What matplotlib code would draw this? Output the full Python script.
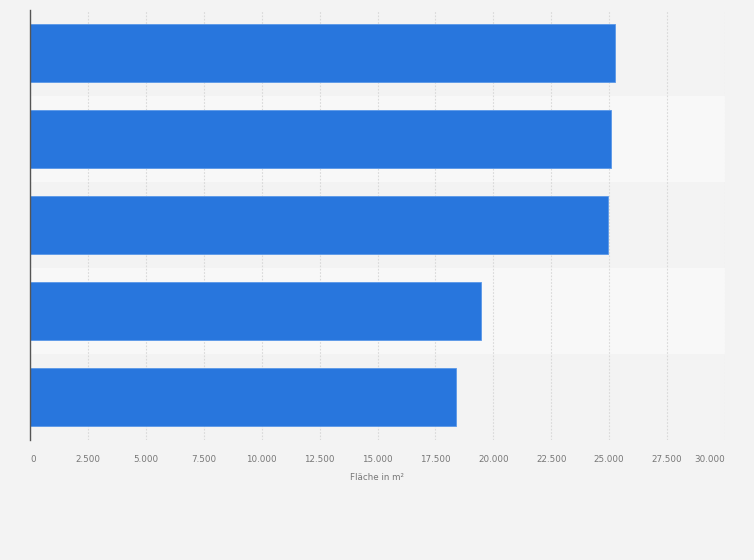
import matplotlib
matplotlib.use("Agg")
import matplotlib.pyplot as plt
from matplotlib.ticker import FuncFormatter

categories = ["Kategorie 1", "Kategorie 2", "Kategorie 3", "Kategorie 4", "Kategorie 5"]
values = [25250, 25080, 24950, 19470, 18380]
xticks = [0, 2500, 5000, 7500, 10000, 12500, 15000, 17500, 20000, 22500, 25000, 27500, 30000]
xlabel = "Fläche in m²"

bg = "#f3f3f3"
fig = plt.figure(figsize=(7.54, 5.6), dpi=100, facecolor=bg)
ax = fig.add_axes([30 / 754, 1 - 440 / 560, 695 / 754, 430 / 560])
ax.set_facecolor(bg)

n = len(categories)
ypos = list(range(n))
# alternating background bands
for i in ypos:
    color = "#f3f3f3" if i % 2 == 0 else "#f8f8f8"
    ax.axhspan(i - 0.5, i + 0.5, color=color, zorder=0, lw=0)

ax.barh(ypos, values, height=0.675, color="#2876dd", edgecolor="#5a98e8",
        linewidth=0.6, zorder=3)

ax.set_ylim(n - 0.5, -0.5)
ax.set_xlim(0, 30000)
ax.set_xticks(xticks)
ax.xaxis.set_major_formatter(FuncFormatter(lambda v, p: f"{int(v):,}".replace(",", ".")))
ax.set_yticks(ypos)
ax.set_yticklabels([])
ax.tick_params(axis="y", length=0)
ax.tick_params(axis="x", length=0, labelsize=6.3, labelcolor="#777777", pad=11)
ax.grid(axis="x", color="#d9d9d9", linestyle=(0, (1.5, 1.5)), linewidth=0.8, zorder=1)
ax.set_axisbelow(True)

labels = ax.get_xticklabels()
labels[0].set_ha("left")
labels[-1].set_ha("right")

for s in ["top", "right", "bottom"]:
    ax.spines[s].set_visible(False)
ax.spines["left"].set_color("#555555")
ax.spines["left"].set_linewidth(1.0)
ax.spines["left"].set_zorder(4)

ax.set_xlabel(xlabel, fontsize=6.3, color="#777777", labelpad=6)

fig.savefig("out.png", dpi=100, facecolor=bg)
